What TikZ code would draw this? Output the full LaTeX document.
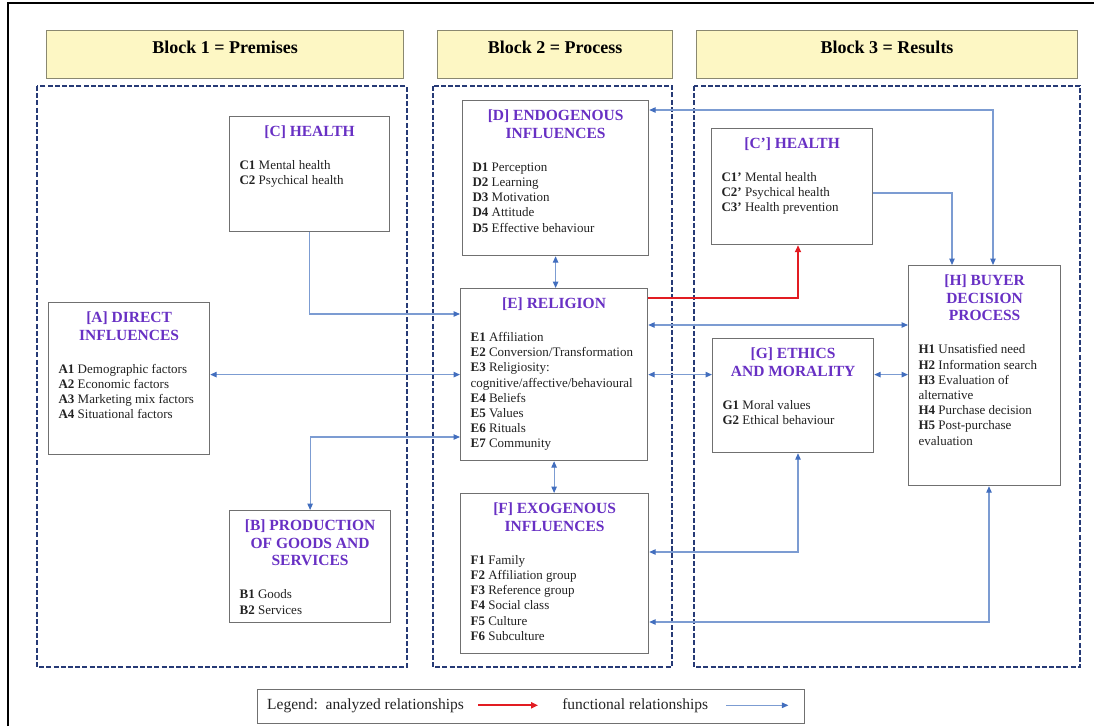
\documentclass[tikz,border=0pt]{standalone}
\usepackage{fontspec}
\setmainfont{Liberation Serif}
\usetikzlibrary{arrows.meta,positioning,calc}

\definecolor{titlepurple}{RGB}{104,48,196}
\definecolor{framenavy}{RGB}{38,58,118}
\definecolor{headyellow}{RGB}{253,247,196}
\definecolor{headline}{RGB}{138,136,112}
\definecolor{boxgray}{RGB}{112,112,112}
\definecolor{linkblue}{RGB}{124,156,210}
\definecolor{tipblue}{RGB}{66,110,190}
\definecolor{analysedred}{RGB}{226,28,34}
\definecolor{itemblack}{RGB}{34,34,34}

\newcommand{\blocktitlefont}{\fontsize{15.5}{17.7}\selectfont\bfseries\color{titlepurple}}
\newcommand{\blockitemfont}{\fontsize{13}{15.2}\selectfont\mdseries\color{itemblack}}
% text of a box: width, height, title, items
\newcommand{\boxbody}[4]{\parbox[t][#2][t]{#1}{\centering\blocktitlefont #3\par
  \vspace{18pt}\raggedright\blockitemfont #4\par}}

\begin{document}
\begin{tikzpicture}[x=1pt, y=-1pt,
  header/.style={draw=headline, line width=1.2pt, fill=headyellow, anchor=north west,
    inner sep=0pt, text height=23pt, text depth=25pt, font=\fontsize{18}{21}\selectfont\bfseries},
  blockframe/.style={draw=framenavy, line width=2pt, dash pattern=on 5pt off 2.2pt},
  block/.style={draw=boxgray, line width=1.2pt, fill=white, anchor=north west, inner xsep=10pt, inner ysep=9pt},
  link/.style={draw=linkblue, line width=1.1pt},
  bluetip/.tip={Triangle[length=6.5pt,width=5.5pt,color=tipblue]},
  oneway/.style={link, -bluetip},
  twoway/.style={link, bluetip-bluetip},
  analysed/.style={draw=analysedred, line width=2pt, -{Triangle[length=7pt,width=6pt]}},
  legendtext/.style={inner sep=0pt, font=\fontsize{15.5}{18}\selectfont\color{itemblack}}
]
\useasboundingbox (0,0) rectangle (1094,726);
\draw[line width=2.2pt] (8,726) -- (8,3) -- (1094,3);

% headers
\node[header, minimum width=357pt] (hd1) at (46,30) {Block 1 = Premises};
\node[header, minimum width=235pt] (hd2) at (437,30) {Block 2 = Process};
\node[header, minimum width=381pt] (hd3) at (696,30) {Block 3 = Results};

% dashed frames of the three blocks
\draw[blockframe] (37,86) rectangle (407,667);
\draw[blockframe] (433,86) rectangle (672,667);
\draw[blockframe] (694,86) rectangle (1080,667);

% Block 1
\node[block] (hc) at (229,116) {\boxbody{140pt}{97pt}{[C] HEALTH}
  {\textbf{C1} Mental health\\ \textbf{C2} Psychical health}};
\node[block] (da) at (48,302) {\boxbody{141pt}{134pt}{[A] DIRECT\\INFLUENCES}
  {\textbf{A1} Demographic factors\\ \textbf{A2} Economic factors\\
   \textbf{A3} Marketing mix factors\\ \textbf{A4} Situational factors}};
\node[block] (pb) at (229,510) {\boxbody{141pt}{94pt}{[B] PRODUCTION\\OF GOODS AND\\SERVICES}
  {\textbf{B1} Goods\\ \textbf{B2} Services}};

% Block 2
\node[block] (ed) at (462,100) {\boxbody{166pt}{137pt}{[D] ENDOGENOUS\\INFLUENCES}
  {\textbf{D1} Perception\\ \textbf{D2} Learning\\ \textbf{D3} Motivation\\
   \textbf{D4} Attitude\\ \textbf{D5} Effective behaviour}};
\node[block] (re) at (460,288) {\boxbody{167pt}{154pt}{[E] RELIGION}
  {\textbf{E1} Affiliation\\ \textbf{E2} Conversion/Transformation\\
   \textbf{E3} Religiosity:\\ cognitive/affective/behavioural\\
   \textbf{E4} Beliefs\\ \textbf{E5} Values\\ \textbf{E6} Rituals\\ \textbf{E7} Community}};
\node[block] (ef) at (460,493) {\boxbody{168pt}{142pt}{[F] EXOGENOUS\\INFLUENCES}
  {\textbf{F1} Family\\ \textbf{F2} Affiliation group\\ \textbf{F3} Reference group\\
   \textbf{F4} Social class\\ \textbf{F5} Culture\\ \textbf{F6} Subculture}};

% Block 3
\node[block] (hc2) at (711,128) {\boxbody{141pt}{98pt}{[C'] HEALTH}
  {\textbf{C1'} Mental health\\ \textbf{C2'} Psychical health\\ \textbf{C3'} Health prevention}};
\node[block] (bd) at (908,265) {\boxbody{132pt}{202pt}{[H] BUYER\\DECISION\\PROCESS}
  {\textbf{H1} Unsatisfied need\\ \textbf{H2} Information search\\ \textbf{H3} Evaluation of\\
   alternative\\ \textbf{H4} Purchase decision\\ \textbf{H5} Post-purchase\\ evaluation}};
\node[block] (em) at (712,338) {\boxbody{141pt}{96pt}{[G] ETHICS\\AND MORALITY}
  {\textbf{G1} Moral values\\ \textbf{G2} Ethical behaviour}};

% connection points
\coordinate (e1) at ([yshift=-26pt]re.north west);
\coordinate (e2) at ([yshift=-149pt]re.north west);
\coordinate (e3) at ([yshift=-10pt]re.north east);
\coordinate (e4) at ([yshift=-37pt]re.north east);
\coordinate (f1) at ([yshift=-59pt]ef.north east);
\coordinate (f2) at ([yshift=-129pt]ef.north east);

% functional relationships
\draw[oneway] (hc.south) |- (e1);
\draw[twoway] (da.east |- re.west) -- (re.west);
\draw[twoway] (pb.north) |- (e2);
\draw[twoway] (ed.south) -- (ed.south |- re.north);
\draw[twoway] (re.south) -- (re.south |- ef.north);
\draw[twoway] (e4) -- (e4 -| bd.west);
\draw[twoway] (re.east) -- (re.east -| em.west);
\draw[twoway] (re.east -| em.east) -- (re.east -| bd.west);
\draw[twoway] (f1) -| ([xshift=86pt]em.south west);
\draw[twoway] (f2) -| ([xshift=81pt]bd.south west);
\draw[twoway] ([yshift=-10pt]ed.north east) -| ([xshift=85pt]bd.north west);
\draw[oneway] ([yshift=-65pt]hc2.north east) -| ([xshift=44pt]bd.north west);

% analyzed relationship
\draw[analysed] (e3) -| ([xshift=87pt]hc2.south west);

% legend
\node[draw=boxgray, line width=1pt, anchor=north west, minimum width=547pt, minimum height=34pt, inner sep=0pt] (lg) at (257,689) {};
\node[legendtext, anchor=base west] (lga) at (267,709) {Legend:\ \ analyzed relationships};
\coordinate[right=14pt of lga] (ra);
\coordinate[right=60pt of ra] (rb);
\node[legendtext, right=24pt of rb] (lgb) {functional relationships};
\coordinate[right=18pt of lgb] (ba);
\coordinate[right=62pt of ba] (bb);
\draw[analysed] (ra) -- (rb);
\draw[oneway] (ba) -- (bb);

\end{tikzpicture}
\end{document}
